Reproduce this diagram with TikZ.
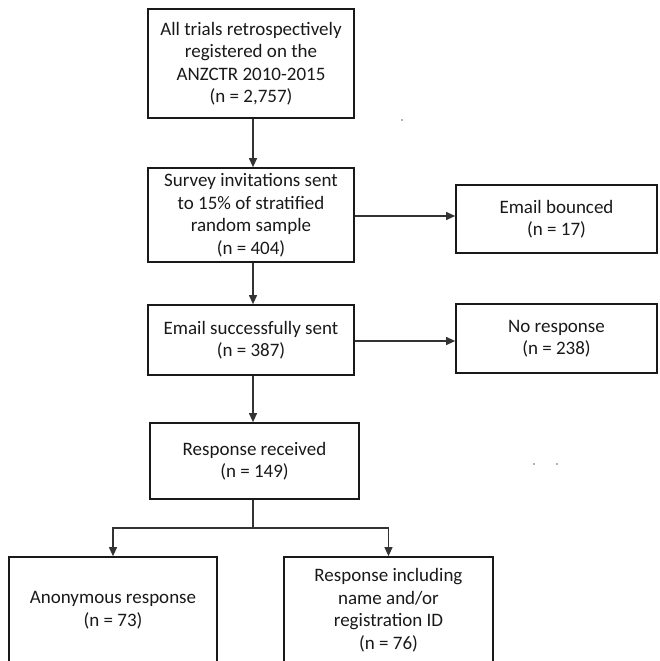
\documentclass[tikz,border=0pt]{standalone}
\usepackage{fontspec}
\setmainfont{Carlito}
\usetikzlibrary{arrows.meta}
\begin{document}
\begin{tikzpicture}[x=1pt,y=-1pt,
  box/.style={draw=black!90,line width=1.7pt,align=center,inner sep=0pt,
    font=\fontsize{19}{22.5}\selectfont,text=black!90},
  conn/.style={draw=black!80,line width=1.1pt,-{Triangle[length=9pt,width=8pt]}},
  plain/.style={draw=black!80,line width=1.1pt}]
\useasboundingbox (0,0) rectangle (659,661);
\node[box,minimum width=206pt,minimum height=109pt] (a) at (251,63.5)
  {All trials retrospectively\\registered on the\\ANZCTR 2010-2015\\(n = 2,757)};
\node[box,minimum width=206pt,minimum height=94pt] (b) at (251,215)
  {Survey invitations sent\\to 15\% of stratified\\random sample\\(n = 404)};
\node[box,minimum width=201pt,minimum height=68pt] (c) at (556.5,219)
  {Email bounced\\(n = 17)};
\node[box,minimum width=206pt,minimum height=70pt] (d) at (251,340)
  {Email successfully sent\\(n = 387)};
\node[box,minimum width=201pt,minimum height=69pt] (e) at (556.5,338.5)
  {No response\\(n = 238)};
\node[box,minimum width=209pt,minimum height=76pt] (f) at (254.5,461)
  {Response received\\(n = 149)};
\node[box,minimum width=208pt,minimum height=106pt] (g) at (113,610)
  {Anonymous response\\(n = 73)};
\node[box,minimum width=209pt,minimum height=106pt] (h) at (388.5,610)
  {Response including\\name and/or\\registration ID\\(n = 76)};
\coordinate (s) at (253,528);
\draw[conn] (a.south -| 253,0) -- (b.north -| 253,0);
\draw[conn] (b.south -| 253,0) -- (d.north -| 253,0);
\draw[conn] (d.south -| 253,0) -- (f.north -| 253,0);
\draw[conn] (b.east |- 0,216) -- (c.west |- 0,216);
\draw[conn] (d.east |- 0,341) -- (e.west |- 0,341);
\draw[plain] (f.south -| s) -- (s);
\draw[conn] (s) -| (g.north);
\draw[conn] (s) -| (h.north);
\fill[black!60] (402,120) circle (0.8);
\fill[black!60] (534,464) circle (0.8);
\fill[black!60] (557,464) circle (0.8);
\end{tikzpicture}
\end{document}
